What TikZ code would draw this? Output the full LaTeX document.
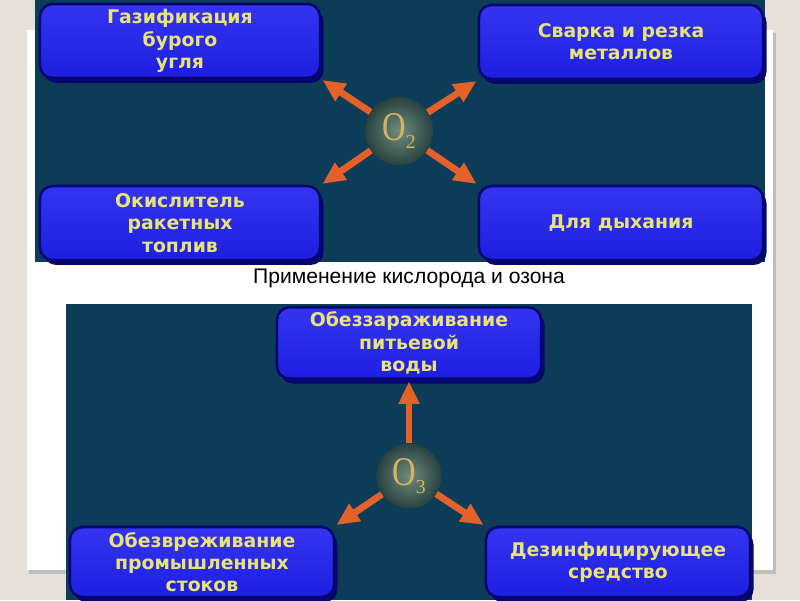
\documentclass[tikz,border=0pt]{standalone}
\usepackage{fontspec}
\setmainfont{Liberation Sans}
\newfontfamily\boxfont{DejaVu Sans}
\newfontfamily\chemfont{Liberation Serif}
\usepackage{xcolor}
\definecolor{slidebg}{RGB}{229,225,217}
\definecolor{paneldark}{RGB}{12,60,88}
\definecolor{boxblue}{RGB}{30,30,225}
\definecolor{boxtop}{RGB}{52,52,240}
\definecolor{boxedge}{RGB}{6,6,110}
\definecolor{labelyellow}{RGB}{232,228,120}
\definecolor{arrorange}{RGB}{228,98,42}
\definecolor{ballin}{RGB}{112,140,124}
\definecolor{ballout}{RGB}{40,66,64}
\definecolor{chemgold}{RGB}{210,180,100}
\usetikzlibrary{arrows.meta,positioning,shadows}

\begin{document}
\begin{tikzpicture}[x=0.025cm,y=-0.025cm,
    box/.style={draw=boxedge,line width=1.8pt,rounded corners=9pt,
        top color=boxtop,bottom color=boxblue,
        drop shadow={shadow xshift=2.5pt,shadow yshift=-3.5pt,
            fill=boxedge,opacity=1},
        align=center,text=labelyellow,
        font=\boxfont\bfseries\fontsize{13.4}{15.8}\selectfont},
    ball/.style={circle,minimum size=1.7cm,inner sep=0pt,
        inner color=ballin,outer color=ballout,text=chemgold,
        font=\chemfont\fontsize{29}{29}\selectfont},
    arr/.style={-{Triangle[length=16pt,width=14pt]},line width=4.8pt,
        arrorange,shorten >=1pt}]
  \useasboundingbox (0,0) rectangle (800,600);

  %% Slide and card
  \fill[slidebg] (0,0) rectangle (800,600);
  \fill[black!25] (29,33) rectangle (776,574);
  \fill[white] (27,30) rectangle (773,570);

  %% Oxygen panel
  \fill[paneldark] (35,0) rectangle (765,262);
  \node[box,minimum width=7.0cm,minimum height=1.85cm]
        (gaz) at (180,41) {Газификация\\бурого\\угля};
  \node[box,minimum width=7.1cm,minimum height=1.85cm]
        (svar) at (621,42) {Сварка и резка\\металлов};
  \node[box,minimum width=7.0cm,minimum height=1.85cm]
        (okis) at (180,223) {Окислитель\\ракетных\\топлив};
  \node[box,minimum width=7.1cm,minimum height=1.85cm]
        (dyh) at (621,223) {Для дыхания};
  \node[ball] (o2) at (399,131)
        {\scalebox{0.8}[1]{O}\raisebox{-0.45ex}{\fontsize{14}{14}\selectfont 2}};

  \draw[arr] (o2) -- (gaz.south east);
  \draw[arr] (o2) -- (svar.south west);
  \draw[arr] (o2) -- (okis.north east);
  \draw[arr] (o2) -- (dyh.north west);

  %% Caption
  \node[font=\fontsize{15}{17}\selectfont] (cap) at (409,278)
        {Применение кислорода и озона};

  %% Ozone panel
  \fill[paneldark] (66,304) rectangle (752,600);
  \node[box,minimum width=6.6cm,minimum height=1.72cm]
        (obez) at (409,343) {Обеззараживание\\питьевой\\воды};
  \node[box,minimum width=6.6cm,minimum height=1.75cm]
        (obvr) at (202,562) {Обезвреживание\\промышленных\\стоков};
  \node[box,minimum width=6.6cm,minimum height=1.75cm]
        (dez) at (618,562) {Дезинфицирующее\\средство};
  \node[ball,minimum size=1.62cm] (o3) at (409,476)
        {\scalebox{0.8}[1]{O}\raisebox{-0.45ex}{\fontsize{14}{14}\selectfont 3}};

  \draw[arr] (o3) -- (obez.south);
  \draw[arr] (o3) -- (obvr.north east);
  \draw[arr] (o3) -- (dez.north west);
\end{tikzpicture}
\end{document}
